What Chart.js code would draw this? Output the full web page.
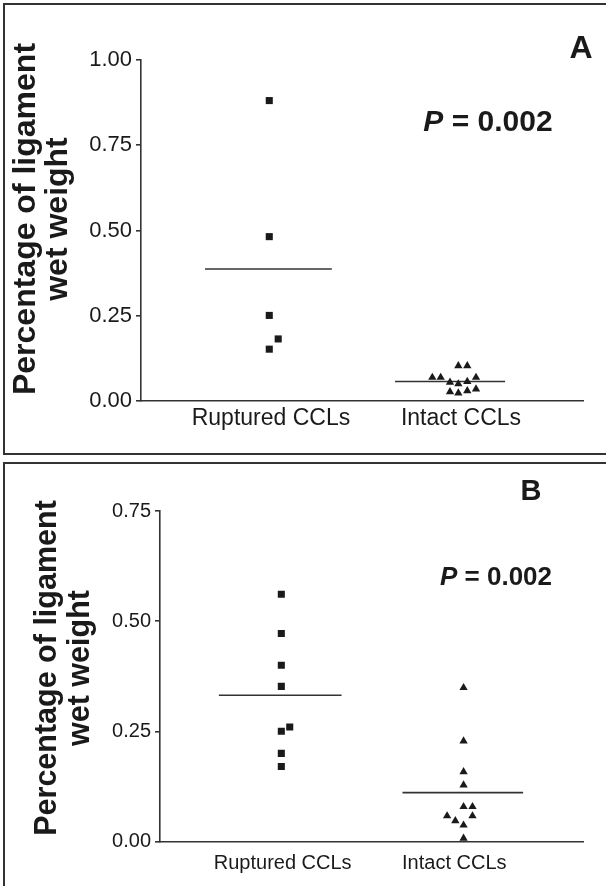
<!DOCTYPE html>
<html>
<head>
<meta charset="utf-8">
<script src="https://cdn.jsdelivr.net/npm/chart.js@4.4.1/dist/chart.umd.min.js"></script>
<style>
body { margin: 0; width: 606px; height: 886px; overflow: hidden; background: #fff; position: relative; }
.box { position: absolute; border: 2px solid #333; box-sizing: border-box; }
#boxA { left: 3px; top: 3px; width: 612px; height: 452px; }
#boxB { left: 3px; top: 462px; width: 612px; height: 430px; }
canvas { position: absolute; left: 0; }
#chartA { top: 0; }
#chartB { top: 461px; }
</style>
</head>
<body>
<div class="box" id="boxA"></div>
<div class="box" id="boxB"></div>
<canvas id="chartA" width="606" height="452"></canvas>
<canvas id="chartB" width="606" height="425"></canvas>
<script>
// Data
const categories = ['Ruptured CCLs', 'Intact CCLs'];
const yTitle = ['Percentage of ligament', 'wet weight'];
const pLabel = '0.002';

// Panel A
const aTicks = [0, 0.25, 0.5, 0.75, 1];
const aRupturedX = [0.991, 0.991, 0.991, 1.038, 0.991];
const aRupturedY = [0.881, 0.482, 0.251, 0.182, 0.152];
const aIntactX = [1.986, 2.033, 1.849, 1.893, 1.942, 1.986, 2.033, 2.079, 1.942, 1.986, 2.033, 2.079];
const aIntactY = [0.103, 0.103, 0.069, 0.069, 0.055, 0.050, 0.057, 0.069, 0.027, 0.023, 0.030, 0.035];
const aMeans = [0.387, 0.057];
const aMeanFrom = [0.653, 1.653];
const aMeanTo = [1.32, 2.232];

// Panel B
const bTicks = [0, 0.25, 0.5, 0.75];
const bRupturedX = [0.992, 0.992, 0.992, 0.992, 1.041, 0.992, 0.992, 0.992];
const bRupturedY = [0.561, 0.472, 0.400, 0.352, 0.260, 0.250, 0.200, 0.170];
const bIntactX = [2.054, 2.054, 2.054, 2.054, 2.054, 2.106, 1.958, 2.106, 2.006, 2.054, 2.054];
const bIntactY = [0.349, 0.228, 0.158, 0.128, 0.079, 0.079, 0.058, 0.058, 0.047, 0.037, 0.007];
const bMeans = [0.332, 0.111];
const bMeanFrom = [0.628, 1.698];
const bMeanTo = [1.343, 2.401];

const FONT = '"Liberation Sans", Arial, Helvetica, sans-serif';
const INK = '#1a1a1a';

function dots(xs, ys) {
    return ys.map((y, i) => ({ x: xs[i], y: y }));
}

// draws the rotated y title, the P value and the panel letter
const panelText = {
    id: 'panelText',
    afterDraw(chart, args, o) {
        const ctx = chart.ctx;
        ctx.save();
        ctx.fillStyle = INK;
        ctx.textAlign = 'center';
        ctx.textBaseline = 'middle';

        ctx.save();
        ctx.translate(o.titleX, o.titleY);
        ctx.rotate(-Math.PI / 2);
        ctx.font = 'bold ' + o.titleSize + 'px ' + FONT;
        yTitle.forEach((line, i) => {
            ctx.fillText(line, 0, (i - (yTitle.length - 1) / 2) * o.titleGap);
        });
        ctx.restore();

        // P = 0.002 with italic P
        const italic = 'italic bold ' + o.pSize + 'px ' + FONT;
        const bold = 'bold ' + o.pSize + 'px ' + FONT;
        const rest = ' = ' + pLabel;
        ctx.font = italic;
        const w1 = ctx.measureText('P').width;
        ctx.font = bold;
        const w2 = ctx.measureText(rest).width;
        let x0 = o.pX - (w1 + w2) / 2;
        ctx.textAlign = 'left';
        ctx.font = italic;
        ctx.fillText('P', x0, o.pY);
        ctx.font = bold;
        ctx.fillText(rest, x0 + w1, o.pY);

        ctx.textAlign = 'center';
        ctx.font = 'bold ' + o.letterSize + 'px ' + FONT;
        ctx.fillText(o.letter, o.letterX, o.letterY);
        ctx.restore();
    }
};

function makePanel(id, p) {
    const datasets = [
        { data: dots(p.rx, p.ry), pointStyle: 'rect', pointRadius: 5, backgroundColor: INK, borderColor: INK, borderWidth: 0 },
        { data: dots(p.ix, p.iy), pointStyle: 'triangle', pointRadius: 4.8, backgroundColor: INK, borderColor: INK, borderWidth: 0 }
    ];
    p.means.forEach((m, i) => {
        datasets.push({
            type: 'line',
            data: [{ x: p.from[i], y: m }, { x: p.to[i], y: m }],
            borderColor: '#333', borderWidth: 1.6, pointRadius: 0, fill: false
        });
    });

    new Chart(document.getElementById(id), {
        type: 'scatter',
        data: { datasets: datasets },
        plugins: [panelText],
        options: {
            responsive: false,
            animation: false,
            layout: { padding: p.padding },
            plugins: {
                legend: { display: false },
                tooltip: { enabled: false },
                panelText: p.text
            },
            scales: {
                x: {
                    type: 'linear',
                    min: p.xMin,
                    max: p.xMax,
                    afterBuildTicks: (s) => { s.ticks = [{ value: 1 }, { value: 2 }]; },
                    afterFit: (s) => { s.height = 40; },
                    grid: { display: false, drawTicks: false },
                    border: { display: true, color: '#333', width: 1.6 },
                    ticks: {
                        autoSkip: false, maxRotation: 0, padding: p.xPad, color: INK,
                        font: { family: FONT, size: p.catSize },
                        callback: (v) => categories[v - 1] || ''
                    }
                },
                y: {
                    min: 0,
                    max: p.ticks[p.ticks.length - 1],
                    afterBuildTicks: (s) => { s.ticks = p.ticks.map(v => ({ value: v })); },
                    afterFit: (s) => { s.width = p.yWidth; },
                    grid: { drawOnChartArea: false, drawTicks: true, tickLength: 5, color: '#333', lineWidth: 1.6 },
                    border: { display: true, color: '#333', width: 1.6 },
                    ticks: {
                        padding: 4, color: INK,
                        font: { family: FONT, size: p.tickSize },
                        callback: (v) => v.toFixed(2)
                    }
                }
            }
        }
    });
}

makePanel('chartA', {
    rx: aRupturedX, ry: aRupturedY, ix: aIntactX, iy: aIntactY,
    means: aMeans, from: aMeanFrom, to: aMeanTo, ticks: aTicks,
    xMin: 0.316, xMax: 2.642, yWidth: 141,
    padding: { top: 60, right: 23, bottom: 11, left: 0 },
    xPad: 4, catSize: 23, tickSize: 22,
    text: { titleX: 42, titleY: 219, titleSize: 32, titleGap: 32,
            pX: 488, pY: 123, pSize: 30,
            letter: 'A', letterX: 581, letterY: 49, letterSize: 32 }
});

makePanel('chartB', {
    rx: bRupturedX, ry: bRupturedY, ix: bIntactX, iy: bIntactY,
    means: bMeans, from: bMeanFrom, to: bMeanTo, ticks: bTicks,
    xMin: 0.285, xMax: 2.75, yWidth: 160,
    padding: { top: 50, right: 23, bottom: 4.5, left: 0 },
    xPad: 10, catSize: 20, tickSize: 20,
    text: { titleX: 64, titleY: 207, titleSize: 30.5, titleGap: 33,
            pX: 496, pY: 117, pSize: 26,
            letter: 'B', letterX: 531, letterY: 31, letterSize: 29 }
});
</script>
</body>
</html>
